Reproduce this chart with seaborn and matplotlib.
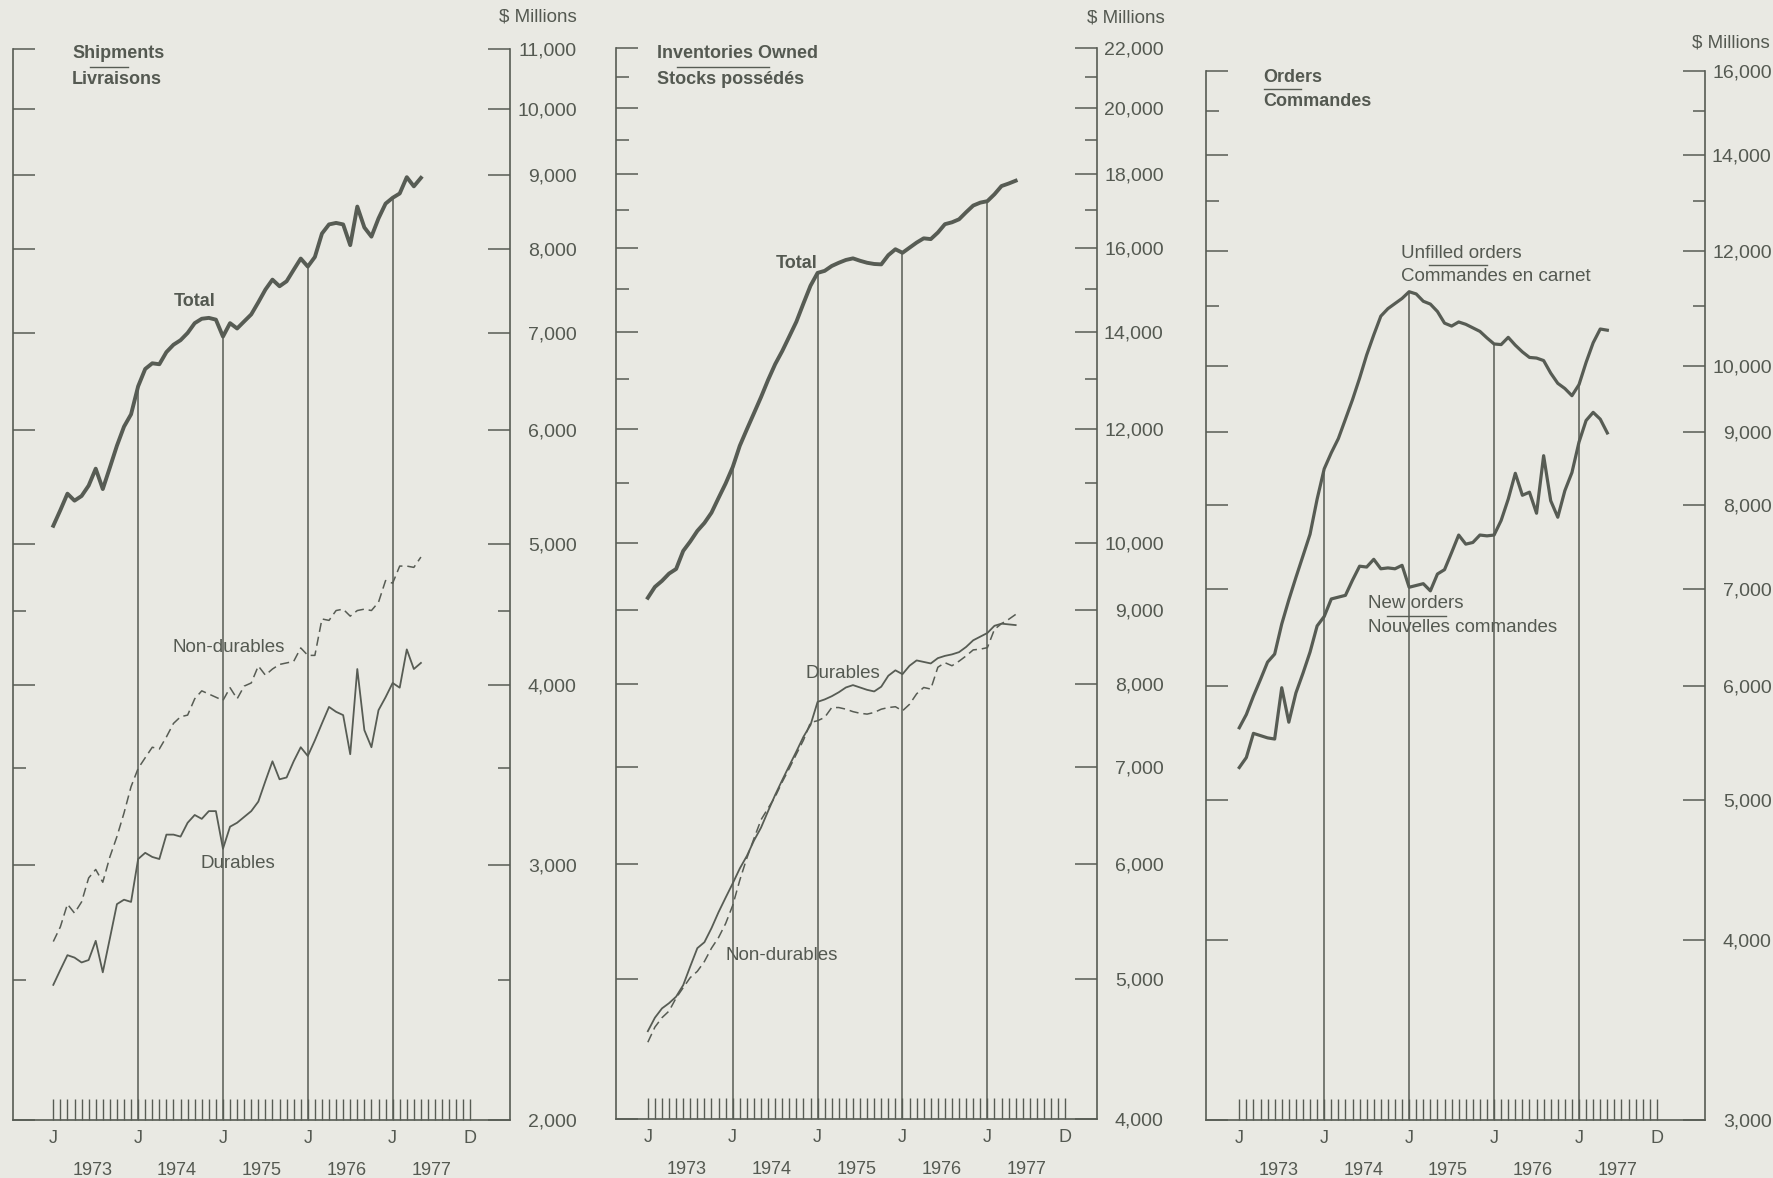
import numpy as np
import matplotlib.pyplot as plt
import seaborn as sns
from matplotlib.lines import Line2D

# month index 0 = Jan 1973 ... 52 = May 1977
months = np.arange(53)

ship_total = [5150, 5280, 5420, 5360, 5400, 5490, 5640, 5460, 5650, 5850,
              6030, 6150, 6430, 6610, 6670, 6660, 6790, 6870, 6920, 7000,
              7110, 7160, 7170, 7150, 6960, 7110, 7050, 7130, 7210, 7350,
              7500, 7620, 7540, 7600, 7740, 7880, 7780, 7900, 8200, 8320,
              8340, 8320, 8050, 8560, 8280, 8160, 8400, 8600, 8680, 8740,
              8970, 8840, 8960]
ship_nondurables = [2657, 2720, 2820, 2780, 2830, 2940, 2980, 2920, 3040, 3140,
                    3260, 3400, 3500, 3560, 3620, 3610, 3680, 3760, 3800, 3810,
                    3910, 3960, 3940, 3920, 3900, 3980, 3910, 3990, 4010, 4120,
                    4060, 4100, 4130, 4140, 4150, 4240, 4190, 4190, 4440, 4430,
                    4500, 4510, 4460, 4500, 4510, 4500, 4560, 4720, 4700, 4830,
                    4830, 4820, 4900]
ship_durables = [2480, 2540, 2600, 2590, 2570, 2580, 2660, 2530, 2670, 2820,
                 2840, 2830, 3030, 3060, 3040, 3030, 3150, 3150, 3140, 3210,
                 3250, 3230, 3270, 3270, 3080, 3190, 3210, 3240, 3270, 3320,
                 3430, 3540, 3440, 3450, 3540, 3620, 3570, 3660, 3760, 3860,
                 3830, 3810, 3580, 4100, 3720, 3620, 3840, 3920, 4010, 3980,
                 4230, 4100, 4140]

inv_total = [9170, 9330, 9420, 9530, 9600, 9880, 10030, 10200, 10330, 10500,
             10750, 11000, 11290, 11680, 11990, 12300, 12620, 12970, 13300, 13580,
             13900, 14230, 14650, 15070, 15380, 15430, 15550, 15630, 15700, 15740,
             15680, 15630, 15600, 15590, 15820, 15970, 15880, 16010, 16140, 16250,
             16230, 16400, 16620, 16670, 16750, 16940, 17120, 17200, 17240, 17430,
             17660, 17730, 17810]
inv_durables = [4600, 4700, 4770, 4810, 4860, 4950, 5100, 5250, 5300, 5420,
                5560, 5690, 5820, 5960, 6080, 6230, 6360, 6530, 6700, 6860,
                7020, 7180, 7350, 7490, 7770, 7800, 7840, 7890, 7950, 7980,
                7950, 7920, 7900, 7960, 8100, 8170, 8120, 8230, 8300, 8280,
                8260, 8330, 8360, 8380, 8410, 8480, 8570, 8620, 8670, 8770,
                8800, 8790, 8780]
inv_nondurables = [4520, 4630, 4700, 4750, 4850, 4930, 5010, 5060, 5140, 5250,
                   5340, 5460, 5620, 5850, 6060, 6250, 6440, 6560, 6680, 6840,
                   6990, 7150, 7310, 7520, 7540, 7580, 7700, 7700, 7680, 7650,
                   7630, 7620, 7640, 7680, 7700, 7710, 7660, 7740, 7870, 7950,
                   7930, 8210, 8270, 8230, 8290, 8360, 8440, 8450, 8470, 8720,
                   8800, 8860, 8930]

unfilled_orders = [5610, 5730, 5900, 6060, 6230, 6310, 6620, 6880, 7130, 7380,
                   7640, 8080, 8480, 8700, 8900, 9180, 9470, 9800, 10170, 10500,
                   10820, 10950, 11040, 11130, 11250, 11210, 11080, 11030, 10900, 10700,
                   10650, 10720, 10680, 10620, 10560, 10450, 10350, 10340, 10460, 10330,
                   10220, 10130, 10120, 10080, 9880, 9720, 9640, 9530, 9700, 10050,
                   10370, 10600, 10580]
new_orders = [5265, 5350, 5560, 5540, 5520, 5510, 5980, 5660, 5930, 6120,
              6330, 6600, 6700, 6890, 6910, 6930, 7100, 7260, 7250, 7340,
              7230, 7240, 7230, 7270, 7020, 7040, 7060, 6980, 7170, 7220,
              7420, 7630, 7520, 7540, 7630, 7620, 7630, 7810, 8080, 8420,
              8130, 8170, 7900, 8660, 8060, 7850, 8190, 8430, 8850, 9160,
              9280, 9180, 8980]

month_ticks = np.arange(60)
month_labels = ['J' if m % 12 == 0 else '' for m in month_ticks]
month_labels[-1] = 'D'
years = ['1973', '1974', '1975', '1976', '1977']
year_starts = [12, 24, 36, 48]

ship_major = [2000, 3000, 4000, 5000, 6000, 7000, 8000, 9000, 10000, 11000]
ship_minor = [2500, 3500, 4500]
inv_major = [4000, 5000, 6000, 7000, 8000, 9000, 10000, 12000, 14000, 16000,
             18000, 20000, 22000]
inv_minor = [11000, 13000, 15000, 17000, 19000, 21000]
ord_major = [3000, 4000, 5000, 6000, 7000, 8000, 9000, 10000, 12000, 14000, 16000]
ord_minor = [11000, 13000, 15000]

PAPER = '#e9e9e3'
INK = '#575c54'
TXT = '#545951'

plt.rcParams['font.family'] = ['Liberation Sans', 'DejaVu Sans']

W, H = 1774, 1178
fig = plt.figure(figsize=(W / 100, H / 100), dpi=100, facecolor=PAPER)


def px_axes(x0, x1, top, bottom):
    return fig.add_axes([x0 / W, 1 - bottom / H, (x1 - x0) / W, (bottom - top) / H])


def ftext(x, y, s, **kw):
    kw.setdefault('color', TXT)
    kw.setdefault('va', 'center')
    kw.setdefault('ha', 'left')
    fig.text(x / W, 1 - y / H, s, **kw)


def rule(x0, x1, y):
    fig.add_artist(Line2D([x0 / W, x1 / W], [1 - y / H] * 2, color=INK, lw=1.0))


def style(ax, lo, hi, major, minor, xlim):
    ax.set_facecolor('none')
    ax.set_yscale('log')
    ax.set_ylim(lo, hi)
    ax.set_xlim(*xlim)
    ax.spines['top'].set_visible(False)
    for s in ['left', 'right', 'bottom']:
        ax.spines[s].set_color(INK)
        ax.spines[s].set_linewidth(1.2)
    ax.set_yticks(major, labels=[f'{v:,}' for v in major])
    ax.set_yticks(minor, labels=[''] * len(minor), minor=True)
    ax.tick_params(axis='y', which='both', direction='in', left=True, right=True,
                   labelleft=False, labelright=True, colors=INK, labelcolor=TXT,
                   labelsize=14, width=1.1)
    ax.tick_params(axis='y', which='major', length=16, pad=48)
    ax.tick_params(axis='y', which='minor', length=9)
    for t in ax.yaxis.get_major_ticks():
        t.label2.set_horizontalalignment('right')
    ax.set_xticks(month_ticks, labels=month_labels)
    ax.set_xticks([12 * k + 5.5 for k in range(len(years))], labels=years, minor=True)
    ax.tick_params(axis='x', which='major', direction='in', length=15, width=1.0,
                   pad=7, labelsize=13, colors=INK, labelcolor=TXT)
    ax.tick_params(axis='x', which='minor', length=0, pad=30, labelsize=13,
                   labelcolor=TXT)
    ax.set_xlabel('')
    ax.set_ylabel('')


dash = (0, (6, 3.2))

# Shipments
ax1 = px_axes(13, 510, 49, 1120)
sns.lineplot(x=months, y=ship_total, ax=ax1, color=INK, lw=2.8)
sns.lineplot(x=months, y=ship_durables, ax=ax1, color=INK, lw=1.3)
sns.lineplot(x=months, y=ship_nondurables, ax=ax1, color=INK, lw=1.1, linestyle=dash)
ax1.vlines(year_starts, ship_major[0], [ship_total[i] for i in year_starts], color=INK, lw=1.1)
style(ax1, 2000, 11000, ship_major, ship_minor, (-5.7, 64.6))

# Inventories
ax2 = px_axes(616, 1097, 48, 1119)
sns.lineplot(x=months, y=inv_total, ax=ax2, color=INK, lw=2.8)
sns.lineplot(x=months, y=inv_durables, ax=ax2, color=INK, lw=1.3)
sns.lineplot(x=months, y=inv_nondurables, ax=ax2, color=INK, lw=1.1, linestyle=dash)
ax2.vlines(year_starts, inv_major[0], [inv_total[i] for i in year_starts], color=INK, lw=1.1)
style(ax2, 4000, 22000, inv_major, inv_minor, (-4.5, 63.5))

# Orders
ax3 = px_axes(1206, 1705, 71, 1120)
sns.lineplot(x=months, y=unfilled_orders, ax=ax3, color=INK, lw=2.3)
sns.lineplot(x=months, y=new_orders, ax=ax3, color=INK, lw=2.3)
ax3.vlines(year_starts, ord_major[0], [unfilled_orders[i] for i in year_starts], color=INK, lw=1.1)
style(ax3, 3000, 16000, ord_major, ord_minor, (-4.7, 65.8))

# headings and labels
ftext(72, 54, 'Shipments', fontsize=13, fontweight='bold')
ftext(72, 79, 'Livraisons', fontsize=13, fontweight='bold')
rule(90, 128, 67)
ftext(577, 17, '$ Millions', fontsize=13.5, ha='right')
ftext(174, 302, 'Total', fontsize=13, fontweight='bold')
ftext(173, 648, 'Non-durables', fontsize=13.5)
ftext(201, 864, 'Durables', fontsize=13.5)

ftext(657, 54, 'Inventories Owned', fontsize=13, fontweight='bold')
ftext(657, 79, 'Stocks possédés', fontsize=13, fontweight='bold')
rule(677, 769, 67)
ftext(1165, 18, '$ Millions', fontsize=13.5, ha='right')
ftext(776, 264, 'Total', fontsize=13, fontweight='bold')
ftext(806, 674, 'Durables', fontsize=13.5)
ftext(726, 956, 'Non-durables', fontsize=13.5)

ftext(1263, 77, 'Orders', fontsize=13, fontweight='bold')
ftext(1263, 101, 'Commandes', fontsize=13, fontweight='bold')
rule(1264, 1301, 89)
ftext(1770, 43, '$ Millions', fontsize=13.5, ha='right')
ftext(1401, 253, 'Unfilled orders', fontsize=13.5)
ftext(1401, 277, 'Commandes en carnet', fontsize=13.5)
rule(1429, 1487, 265)
ftext(1368, 604, 'New orders', fontsize=13.5)
ftext(1368, 628, 'Nouvelles commandes', fontsize=13.5)
rule(1387, 1446, 616)

fig.savefig('out.png', dpi=100, facecolor=PAPER)
